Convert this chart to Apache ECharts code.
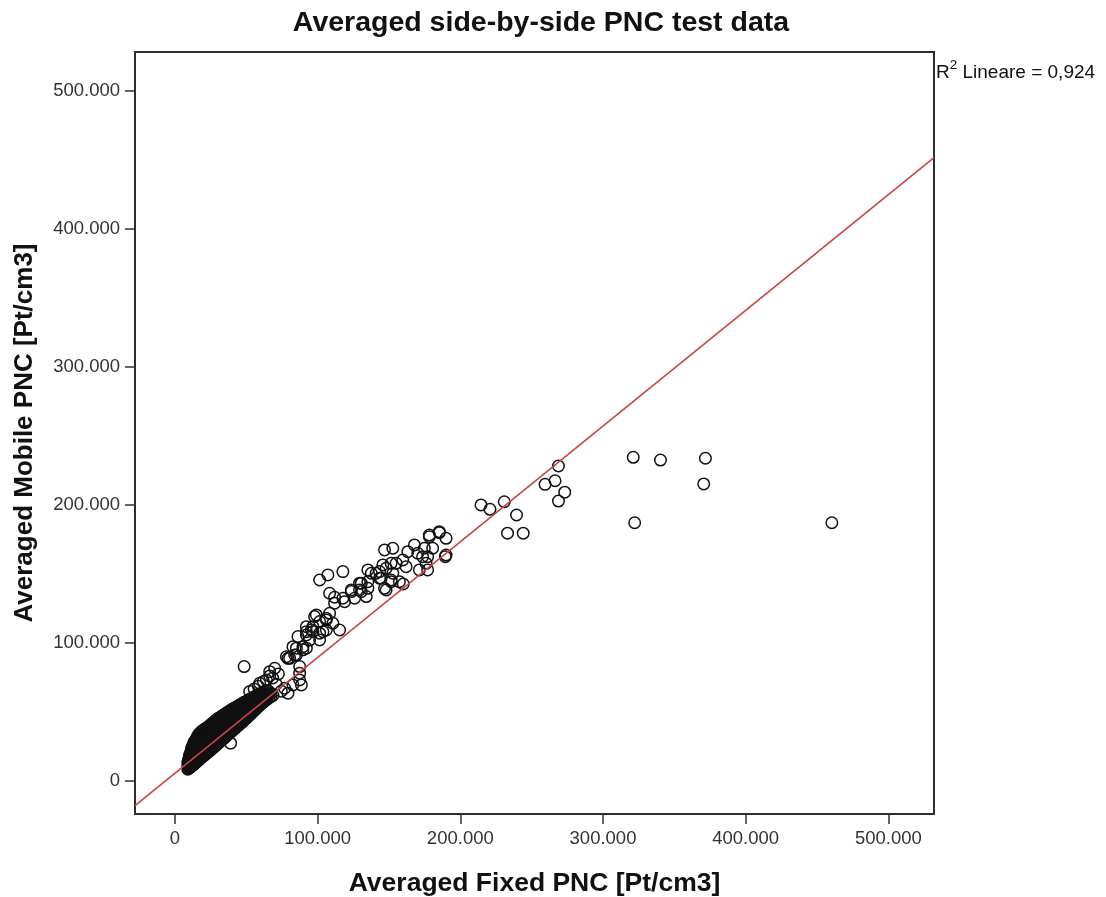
<!DOCTYPE html>
<html>
<head>
<meta charset="utf-8">
<script src="https://cdn.jsdelivr.net/npm/echarts@6.0.0/dist/echarts.min.js"></script>
<style>
html,body{margin:0;padding:0;background:#fff;}
#chart{width:1106px;height:897px;}
</style>
</head>
<body>
<div id="chart"></div>
<script>
// ---------- DATA (Averaged Fixed PNC, Averaged Mobile PNC) [Pt/cm3] ----------
const chartTitle = 'Averaged side-by-side PNC test data';
const xAxisTitle = 'Averaged Fixed PNC [Pt/cm3]';
const yAxisTitle = 'Averaged Mobile PNC [Pt/cm3]';
const xTickValues = [0, 100000, 200000, 300000, 400000, 500000];
const yTickValues = [0, 100000, 200000, 300000, 400000, 500000];
const xRange = [-28000, 532000];
const yRange = [-24000, 528000];
// linear fit (R² = 0,924)
const fitIntercept = 5600;
const fitSlope = 0.838;
const rSquaredText = '0,924';

// dense low-concentration cluster
const denseCluster = [
 [9000,8500],[9000,11000],[9000,13500],
 [9600,9000],[9600,11500],[9600,14000],[9600,16000],
 [10200,9500],[10200,12000],[10200,14500],[10200,17000],[10200,18500],
 [10800,10000],[10800,12500],[10800,15000],[10800,17500],[10800,20000],
 [11400,10500],[11400,13000],[11400,15500],[11400,18000],[11400,20500],[11400,22500],
 [12000,11000],[12000,13500],[12000,16000],[12000,18500],[12000,21000],[12000,23500],[12000,24500],
 [12700,11500],[12700,14000],[12700,16500],[12700,19000],[12700,21500],[12700,24000],[12700,26000],
 [13400,12000],[13400,14500],[13400,17000],[13400,19500],[13400,22000],[13400,24500],[13400,27000],[13400,28000],
 [14100,12800],[14100,15300],[14100,17800],[14100,20300],[14100,22800],[14100,25300],[14100,27800],[14100,29000],
 [14900,13500],[14900,16000],[14900,18500],[14900,21000],[14900,23500],[14900,26000],[14900,28500],[14900,30500],
 [15700,14200],[15700,16700],[15700,19200],[15700,21700],[15700,24200],[15700,26700],[15700,29200],[15700,32000],
 [16500,15000],[16500,17500],[16500,20000],[16500,22500],[16500,25000],[16500,27500],[16500,30000],[16500,32500],[16500,33500],
 [17400,15800],[17400,18300],[17400,20800],[17400,23300],[17400,25800],[17400,28300],[17400,30800],[17400,33300],[17400,34500],
 [18300,16600],[18300,19100],[18300,21600],[18300,24100],[18300,26600],[18300,29100],[18300,31600],[18300,34100],[18300,35500],
 [19300,17500],[19300,20000],[19300,22500],[19300,25000],[19300,27500],[19300,30000],[19300,32500],[19300,35000],[19300,36500],
 [20300,18300],[20300,20800],[20300,23300],[20300,25800],[20300,28300],[20300,30800],[20300,33300],[20300,35800],[20300,37000],
 [21300,19200],[21300,21700],[21300,24200],[21300,26700],[21300,29200],[21300,31700],[21300,34200],[21300,36700],[21300,37800],
 [22300,20000],[22300,22500],[22300,25000],[22300,27500],[22300,30000],[22300,32500],[22300,35000],[22300,37500],[22300,38500],
 [23300,20800],[23300,23300],[23300,25800],[23300,28300],[23300,30800],[23300,33300],[23300,35800],[23300,38300],[23300,39200],
 [24300,21700],[24300,24200],[24300,26700],[24300,29200],[24300,31700],[24300,34200],[24300,36700],[24300,39200],[24300,40000],
 [25300,22600],[25300,25100],[25300,27600],[25300,30100],[25300,32600],[25300,35100],[25300,37600],[25300,40100],[25300,41000],
 [26400,23600],[26400,26100],[26400,28600],[26400,31100],[26400,33600],[26400,36100],[26400,38600],[26400,41100],[26400,42000],
 [27500,24600],[27500,27100],[27500,29600],[27500,32100],[27500,34600],[27500,37100],[27500,39600],[27500,42100],[27500,43000],
 [28600,25600],[28600,28100],[28600,30600],[28600,33100],[28600,35600],[28600,38100],[28600,40600],[28600,43100],[28600,43800],
 [29700,26600],[29700,29100],[29700,31600],[29700,34100],[29700,36600],[29700,39100],[29700,41600],[29700,44100],[29700,44800],
 [30800,27600],[30800,30100],[30800,32600],[30800,35100],[30800,37600],[30800,40100],[30800,42600],[30800,45100],[30800,45600],
 [31900,28600],[31900,31100],[31900,33600],[31900,36100],[31900,38600],[31900,41100],[31900,43600],[31900,46200],
 [33000,29600],[33000,32100],[33000,34600],[33000,37100],[33000,39600],[33000,42100],[33000,44600],[33000,47000],
 [34100,30600],[34100,33100],[34100,35600],[34100,38100],[34100,40600],[34100,43100],[34100,45600],[34100,47800],
 [35200,31700],[35200,34200],[35200,36700],[35200,39200],[35200,41700],[35200,44200],[35200,46700],[35200,48600],
 [36300,32700],[36300,35200],[36300,37700],[36300,40200],[36300,42700],[36300,45200],[36300,47700],[36300,49300],
 [37400,33800],[37400,36300],[37400,38800],[37400,41300],[37400,43800],[37400,46300],[37400,48800],[37400,50000],
 [38500,34800],[38500,37300],[38500,39800],[38500,42300],[38500,44800],[38500,47300],[38500,49800],[38500,50800],
 [39600,35800],[39600,38300],[39600,40800],[39600,43300],[39600,45800],[39600,48300],[39600,50800],[39600,51500],
 [40700,36800],[40700,39300],[40700,41800],[40700,44300],[40700,46800],[40700,49300],[40700,51800],[40700,52200],
 [41800,37800],[41800,40300],[41800,42800],[41800,45300],[41800,47800],[41800,50300],[41800,52800],
 [42900,38800],[42900,41300],[42900,43800],[42900,46300],[42900,48800],[42900,51300],[42900,53500],
 [44000,39800],[44000,42300],[44000,44800],[44000,47300],[44000,49800],[44000,52300],[44000,54200],
 [45100,40800],[45100,43300],[45100,45800],[45100,48300],[45100,50800],[45100,53300],[45100,54800],
 [46200,41800],[46200,44300],[46200,46800],[46200,49300],[46200,51800],[46200,54300],[46200,55500],
 [47300,42800],[47300,45300],[47300,47800],[47300,50300],[47300,52800],[47300,55300],[47300,56200],
 [48400,43800],[48400,46300],[48400,48800],[48400,51300],[48400,53800],[48400,56300],[48400,56900],
 [49500,44800],[49500,47300],[49500,49800],[49500,52300],[49500,54800],[49500,57300],
 [50700,46000],[50700,48500],[50700,51000],[50700,53500],[50700,56000],[50700,58000],
 [51900,47200],[51900,49700],[51900,52200],[51900,54700],[51900,57200],[51900,58800],
 [53100,48400],[53100,50900],[53100,53400],[53100,55900],[53100,58400],[53100,59500],
 [54300,49600],[54300,52100],[54300,54600],[54300,57100],[54300,59600],[54300,60200],
 [55500,50800],[55500,53300],[55500,55800],[55500,58300],[55500,60800],
 [56700,52000],[56700,54500],[56700,57000],[56700,59500],[56700,61500],
 [57900,53200],[57900,55700],[57900,58200],[57900,60700],[57900,62200],
 [59100,54400],[59100,56900],[59100,59400],[59100,61900],[59100,63000],
 [60300,55500],[60300,58000],[60300,60500],[60300,63000],
 [61500,56600],[61500,59100],[61500,61600],[61500,64000],
 [62800,57700],[62800,60200],[62800,62700],[62800,64800],
 [64200,58800],[64200,61300],[64200,63800],[64200,65500],
 [65700,60000],[65700,62500],[65700,65000],
 [67200,61000],[67200,63500],[68700,62000]
];

// sparser points, 40k – 200k
const midRange = [
 [39000,27300],[48500,82800],[52400,64700],[55500,66500],[58500,68500],[59400,70700],[62000,72000],
 [64100,73100],[66400,76000],[66400,79100],[69900,81600],[68500,74500],[72500,77500],[76900,67100],
 [79200,63500],[74500,65000],[71000,70000],
 [87400,73100],[88600,69500],[87400,78000],[82700,69500],[87400,82800],[80400,88800],[78100,90000],
 [83900,91200],[85100,96100],[79200,88800],[85100,91200],[82700,97200],[89700,94900],[89700,97200],
 [92100,96100],[86200,104500],[92100,105700],[94400,102100],[101400,102100],[92100,108100],[95600,109300],
 [96700,108100],[103700,108100],[101400,107000],[96700,111700],[92100,111700],[106100,109300],[115400,109300],
 [110700,114200],[101400,115400],[106100,117800],[106100,116600],[97900,119000],[99100,120200],[108400,121400],
 [101400,145500],[107200,149200],[117700,151600],[108400,135900],[111900,133000],[111900,128700],[117700,132300],
 [118900,129800],[123600,137100],[123600,138300],[125900,132300],[129400,138300],[130600,137100],[134100,133500],
 [135200,139500],[129400,143200],[130600,143200],[135200,144300],[137600,150400],[135200,152800],[141000,150400],
 [143400,151600],[143400,146800],[144500,146800],[145700,156400],[148000,154000],[148000,138300],[146900,139500],
 [151500,144300],[151500,145500],[152700,150400],[151500,157600],[155000,157600],[146900,167300],[152700,168500],
 [157300,144300],[159700,160000],[162000,155200],[163200,166000],[167800,170900],[170200,164900],[174800,168500],
 [171300,152800],[177100,152800],[177100,162400],[173600,162400],[176000,157600],[178300,178100],[178300,176900],
 [180600,168500],[185300,180500],[185300,179800],[190000,175700],[189500,162400],[190000,163600],[160000,142600]
];

// 200k – 280k group
const highRange = [
 [214500,199900],[220800,196700],[230800,202200],[239400,192600],[233100,179400],[244100,179400],
 [268800,228100],[266400,217400],[259400,214800],[273200,209100],[268800,202700]
];

// far outliers
const outliers = [
 [321200,234400],[340300,232400],[371800,233700],[370600,215100],[322200,187000],[460400,187000]
];

// ---------- CHART ----------
const allPoints = denseCluster.concat(midRange, highRange, outliers);
const fitLine = [
  [xRange[0], fitIntercept + fitSlope * xRange[0]],
  [xRange[1], fitIntercept + fitSlope * xRange[1]]
];
const fmt = v => String(v).replace(/\B(?=(\d{3})+(?!\d))/g, '.');
const FONT = '"Liberation Sans", Arial, sans-serif';

const chart = echarts.init(document.getElementById('chart'), null, {renderer: 'canvas'});
chart.setOption({
  animation: false,
  backgroundColor: '#fff',
  grid: {
    left: 135, top: 52, width: 799, height: 762,
    containLabel: false, outerBoundsMode: 'none',
    show: true, borderColor: '#2e2e2e', borderWidth: 2, backgroundColor: 'transparent'
  },
  xAxis: {
    type: 'value', min: xRange[0], max: xRange[1],
    name: xAxisTitle, nameLocation: 'middle', nameGap: 70,
    nameTextStyle: {fontFamily: FONT, fontSize: 26.5, fontWeight: 'bold', color: '#111', verticalAlign: 'middle'},
    axisLine: {show: false, onZero: false},
    axisTick: {show: true, customValues: xTickValues, length: 10, lineStyle: {color: '#333', width: 1.5}},
    axisLabel: {customValues: xTickValues, formatter: fmt, fontFamily: FONT, fontSize: 18.5, color: '#333', margin: 15},
    splitLine: {show: false}
  },
  yAxis: {
    type: 'value', min: yRange[0], max: yRange[1],
    name: yAxisTitle, nameLocation: 'middle', nameGap: 110,
    nameTextStyle: {fontFamily: FONT, fontSize: 26, fontWeight: 'bold', color: '#111', verticalAlign: 'middle'},
    axisLine: {show: false, onZero: false},
    axisTick: {show: true, customValues: yTickValues, length: 10, lineStyle: {color: '#333', width: 1.5}},
    axisLabel: {customValues: yTickValues, formatter: fmt, fontFamily: FONT, fontSize: 18.5, color: '#333', margin: 15},
    splitLine: {show: false}
  },
  graphic: [
    {
      type: 'text', x: 541, y: 23, silent: true,
      style: {text: chartTitle, font: 'bold 28.5px ' + FONT, fill: '#111', align: 'center', verticalAlign: 'middle'}
    },
    {
      type: 'text', x: 936, y: 58, silent: true,
      style: {
        text: '{a|R}{b|2}{a| Lineare = ' + rSquaredText + '}',
        rich: {
          a: {fontFamily: FONT, fontSize: 19, lineHeight: 24, verticalAlign: 'bottom', fill: '#111'},
          b: {fontFamily: FONT, fontSize: 13.5, lineHeight: 13, verticalAlign: 'top', fill: '#111'}
        }
      }
    }
  ],
  series: [
    {
      type: 'scatter', data: allPoints, symbol: 'circle', symbolSize: 11.5, silent: true,
      itemStyle: {color: 'rgba(0,0,0,0)', borderColor: '#111', borderWidth: 1.5, opacity: 1},
      z: 2
    },
    {
      type: 'line', data: fitLine, symbol: 'none', silent: true,
      lineStyle: {color: '#c94444', width: 1.6}, z: 3
    }
  ]
});
</script>
</body>
</html>
